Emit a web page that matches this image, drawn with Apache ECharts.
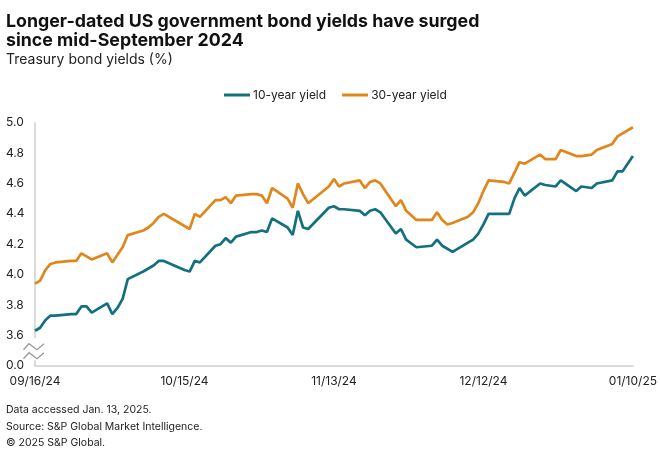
<!DOCTYPE html>
<html>
<head>
<meta charset="utf-8">
<script src="https://cdn.jsdelivr.net/npm/echarts@6/dist/echarts.min.js"></script>
<style>
  html, body { margin: 0; padding: 0; background: #fff; }
  #chart { width: 660px; height: 459px; }
</style>
</head>
<body>
<div id="chart"></div>
<script>
// trading days shown on the chart
var dates = [
  '2024-09-16','2024-09-17','2024-09-18','2024-09-19','2024-09-20','2024-09-23','2024-09-24','2024-09-25','2024-09-26','2024-09-27','2024-09-30',
  '2024-10-01','2024-10-02','2024-10-03','2024-10-04','2024-10-07','2024-10-08','2024-10-09','2024-10-10','2024-10-11','2024-10-15','2024-10-16',
  '2024-10-17','2024-10-18','2024-10-21','2024-10-22','2024-10-23','2024-10-24','2024-10-25','2024-10-28','2024-10-29','2024-10-30','2024-10-31',
  '2024-11-01','2024-11-04','2024-11-05','2024-11-06','2024-11-07','2024-11-08','2024-11-12','2024-11-13','2024-11-14','2024-11-15','2024-11-18',
  '2024-11-19','2024-11-20','2024-11-21','2024-11-22','2024-11-25','2024-11-26','2024-11-27','2024-11-29',
  '2024-12-02','2024-12-03','2024-12-04','2024-12-05','2024-12-06','2024-12-09','2024-12-10','2024-12-11','2024-12-12','2024-12-13','2024-12-16',
  '2024-12-17','2024-12-18','2024-12-19','2024-12-20','2024-12-23','2024-12-24','2024-12-26','2024-12-27','2024-12-30','2024-12-31',
  '2025-01-02','2025-01-03','2025-01-06','2025-01-07','2025-01-08','2025-01-10'
];
var yield10 = [
  3.63,3.65,3.70,3.73,3.73,3.74,3.74,3.79,3.79,3.75,3.81,
  3.74,3.78,3.84,3.97,4.02,4.04,4.06,4.09,4.09,4.03,4.02,
  4.09,4.08,4.19,4.20,4.24,4.21,4.25,4.28,4.28,4.29,4.28,
  4.37,4.31,4.26,4.42,4.31,4.30,4.44,4.45,4.43,4.43,4.42,
  4.39,4.42,4.43,4.41,4.27,4.30,4.23,4.18,
  4.19,4.23,4.19,4.17,4.15,4.21,4.23,4.27,4.33,4.40,4.40,
  4.40,4.50,4.57,4.52,4.60,4.59,4.58,4.62,4.55,4.58,
  4.57,4.60,4.62,4.68,4.68,4.78
];
var yield30 = [
  3.94,3.96,4.03,4.07,4.08,4.09,4.09,4.14,4.12,4.10,4.14,
  4.08,4.13,4.18,4.26,4.29,4.31,4.34,4.38,4.40,4.32,4.30,
  4.40,4.38,4.49,4.49,4.51,4.47,4.52,4.53,4.53,4.52,4.47,
  4.57,4.50,4.44,4.60,4.53,4.47,4.58,4.63,4.58,4.60,4.62,
  4.57,4.61,4.62,4.60,4.45,4.49,4.42,4.36,
  4.36,4.41,4.36,4.33,4.34,4.38,4.41,4.47,4.55,4.62,4.61,
  4.60,4.67,4.74,4.73,4.79,4.76,4.76,4.82,4.78,4.78,
  4.79,4.82,4.86,4.91,4.93,4.97
];
var startDate = '2024-09-16';
var endDate = '2025-01-10';
var tickStepDays = 29;
var yTicks = { min: 3.4, max: 5.0, step: 0.2 };
var breakLabel = '0.0';

var DAY = 86400000;
function toMs(s) {
  var p = s.split('-');
  return Date.UTC(+p[0], +p[1] - 1, +p[2]);
}
var t0 = toMs(startDate);
function dayOf(s) { return Math.round((toMs(s) - t0) / DAY); }
function pad(n) { return (n < 10 ? '0' : '') + n; }
function fmtDay(d) {
  var dt = new Date(t0 + d * DAY);
  return pad(dt.getUTCMonth() + 1) + '/' + pad(dt.getUTCDate()) + '/' + pad(dt.getUTCFullYear() % 100);
}

var s10 = [], s30 = [];
for (var i = 0; i < dates.length; i++) {
  s10.push([dayOf(dates[i]), yield10[i]]);
  s30.push([dayOf(dates[i]), yield30[i]]);
}

var font = 'Inter, "Noto Sans", sans-serif';
var teal = '#13707f';
var orange = '#e0861b';

var chart = echarts.init(document.getElementById('chart'));
var option = {
  backgroundColor: '#fff',
  animation: false,
  title: [
    {
      text: 'Longer-dated US government bond yields have surged\nsince mid-September 2024',
      left: 6, top: 12, padding: 0,
      textStyle: { fontFamily: font, fontSize: 17.8, fontWeight: 'bold', color: '#111', lineHeight: 19 }
    },
    {
      text: 'Treasury bond yields (%)',
      left: 6, top: 53, padding: 0,
      textStyle: { fontFamily: font, fontSize: 14, fontWeight: 'normal', color: '#222' }
    },
    {
      text: 'Data accessed Jan. 13, 2025.\nSource: S&P Global Market Intelligence.\n\u00a9 2025 S&P Global.',
      left: 6, top: 402, padding: 0,
      textStyle: { fontFamily: font, fontSize: 10.5, fontWeight: 'normal', color: '#222', lineHeight: 16.5 }
    }
  ],
  legend: {
    top: 89, left: 224, padding: 0,
    itemWidth: 26, itemHeight: 3, itemGap: 16,
    icon: 'rect',
    textStyle: { fontFamily: font, fontSize: 12, color: '#222', padding: [0, 0, 0, -2] },
    data: ['10-year yield', '30-year yield']
  },
  grid: { left: 35, right: 25, top: 122.7, bottom: 93.3, containLabel: false },
  xAxis: {
    type: 'value',
    min: 0,
    max: dayOf(endDate),
    interval: tickStepDays,
    splitLine: { show: false },
    axisTick: { show: false },
    axisLine: { show: true, lineStyle: { color: '#cfcfcf', width: 1.5 } },
    axisLabel: {
      fontFamily: font, fontSize: 12, color: '#222', margin: 10,
      formatter: function (v) { return fmtDay(v); }
    }
  },
  yAxis: {
    type: 'value',
    min: yTicks.min, max: yTicks.max, interval: yTicks.step,
    splitLine: { show: false },
    axisTick: { show: false },
    axisLine: { show: true, lineStyle: { color: '#cfcfcf', width: 1.5 } },
    axisLabel: {
      fontFamily: font, fontSize: 12, color: '#222', align: 'left', margin: 29,
      formatter: function (v) {
        if (Math.abs(v - yTicks.min) < 1e-6) return breakLabel;
        return v.toFixed(1);
      }
    }
  },
  series: [
    {
      name: '10-year yield', type: 'line', data: s10, showSymbol: false,
      lineStyle: { color: teal, width: 2.7 }, itemStyle: { color: teal }
    },
    {
      name: '30-year yield', type: 'line', data: s30, showSymbol: false,
      lineStyle: { color: orange, width: 2.7 }, itemStyle: { color: orange }
    }
  ]
};
chart.setOption(option);

// axis break marker drawn over the y axis between the 0.0 and 3.6 labels
var ax = chart.convertToPixel({ xAxisIndex: 0 }, 0);
var yb = chart.convertToPixel({ yAxisIndex: 0 }, yTicks.min);
function zig(dy) {
  return [[ax - 11.5, yb + dy], [ax - 6, yb + dy - 6], [ax + 2, yb + dy], [ax + 9, yb + dy - 6]];
}
chart.setOption({
  graphic: [
    { type: 'rect', shape: { x: ax - 3, y: yb - 27.5, width: 6, height: 22 }, style: { fill: '#fff' }, z: 100 },
    { type: 'polyline', shape: { points: zig(-16) }, style: { stroke: '#9a9a9a', lineWidth: 1.3, fill: null }, z: 101 },
    { type: 'polyline', shape: { points: zig(-7) }, style: { stroke: '#9a9a9a', lineWidth: 1.3, fill: null }, z: 101 }
  ]
});
</script>
</body>
</html>
